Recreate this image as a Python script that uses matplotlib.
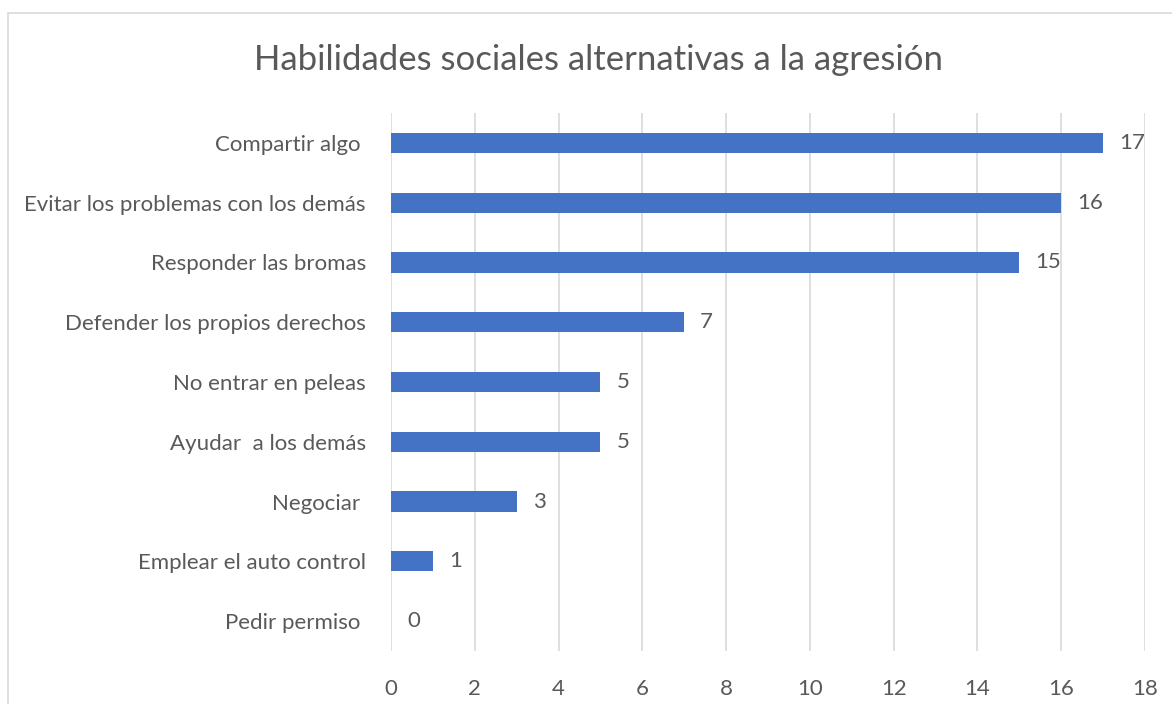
import matplotlib.pyplot as plt
from matplotlib.patches import Rectangle

plt.rcParams['font.family'] = ['Lato', 'DejaVu Sans']

categorias = ['Compartir algo ', 'Evitar los problemas con los demás', 'Responder las bromas',
              'Defender los propios derechos', 'No entrar en peleas', 'Ayudar  a los demás',
              'Negociar ', 'Emplear el auto control', 'Pedir permiso ']
valores = [17, 16, 15, 7, 5, 5, 3, 1, 0]
ticks = [0, 2, 4, 6, 8, 10, 12, 14, 16, 18]

gris = '#595959'

fig = plt.figure(figsize=(11.72, 7.04), dpi=100)
fig.patches.append(Rectangle((8 / 1172, -0.01), 1.0, 1 - 13 / 704 + 0.01, transform=fig.transFigure,
                             fill=False, edgecolor='#d9d9d9', linewidth=1.2))
ax = fig.add_axes([391 / 1172, 53 / 704, (1145 - 391) / 1172, (651 - 113) / 704])

pos = list(range(len(categorias)))
ax.barh(pos, valores, height=0.34, color='#4472c4', zorder=3)
for p, v in zip(pos, valores):
    ax.text(v + 0.38, p, str(v), va='center', ha='left', fontsize=16, color=gris)

ax.set_xlim(0, 18)
ax.set_ylim(len(categorias) - 0.5, -0.5)
ax.set_xticks(ticks)
ax.set_yticks(pos)
ax.set_yticklabels(categorias)
ax.tick_params(axis='both', length=0, labelsize=16, labelcolor=gris)
ax.tick_params(axis='y', pad=18)
ax.tick_params(axis='x', pad=20)
ax.grid(axis='x', color='#d9d9d9', linewidth=1.2, zorder=0)
for s in ax.spines.values():
    s.set_visible(False)

fig.text(599 / 1172, 1 - 60 / 704, 'Habilidades sociales alternativas a la agresión',
         ha='center', va='center', fontsize=25, color=gris)

fig.savefig('out.png', dpi=100)
